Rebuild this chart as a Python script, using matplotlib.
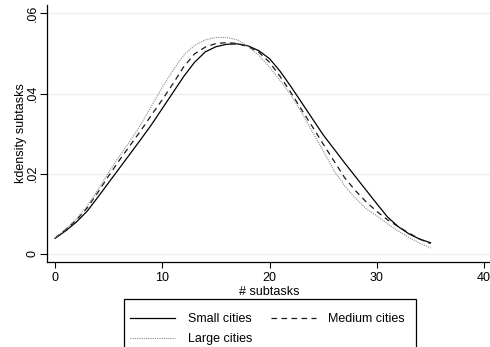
import numpy as np
import matplotlib
matplotlib.use('Agg')
import matplotlib.pyplot as plt
from matplotlib.patches import Rectangle

plt.rcParams['font.family'] = ['Liberation Sans', 'DejaVu Sans']
plt.rcParams['font.size'] = 9

# density, one value per subtask count 0..35
subtasks = list(range(36))
small = [0.0039, 0.0058, 0.0080, 0.0107, 0.0142, 0.0178, 0.0214, 0.0250, 0.0286, 0.0323,
         0.0363, 0.0403, 0.0443, 0.0478, 0.0504, 0.0517, 0.0523, 0.0524, 0.0519, 0.0507,
         0.0487, 0.0455, 0.0417, 0.0377, 0.0337, 0.0297, 0.0262, 0.0227, 0.0193, 0.0159,
         0.0125, 0.0092, 0.0068, 0.0050, 0.0037, 0.0028]
medium = [0.0040, 0.0061, 0.0085, 0.0115, 0.0154, 0.0195, 0.0234, 0.0271, 0.0308, 0.0347,
          0.0385, 0.0425, 0.0467, 0.0499, 0.0516, 0.0525, 0.0527, 0.0525, 0.0517, 0.0503,
          0.0478, 0.0442, 0.0402, 0.0359, 0.0317, 0.0274, 0.0232, 0.0190, 0.0158, 0.0130,
          0.0106, 0.0085, 0.0068, 0.0052, 0.0037, 0.0026]
large = [0.0040, 0.0062, 0.0088, 0.0120, 0.0160, 0.0204, 0.0244, 0.0282, 0.0323, 0.0369,
         0.0416, 0.0458, 0.0496, 0.0520, 0.0534, 0.0540, 0.0540, 0.0534, 0.0518, 0.0495,
         0.0466, 0.0432, 0.0396, 0.0352, 0.0304, 0.0257, 0.0208, 0.0170, 0.0139, 0.0113,
         0.0095, 0.0075, 0.0057, 0.0041, 0.0027, 0.0015]

xticks = [0, 10, 20, 30, 40]
yticks = [0, 0.02, 0.04, 0.06]
ytick_labels = ['0', '.02', '.04', '.06']

fig = plt.figure(figsize=(4.9, 3.47), dpi=100)
ax = fig.add_axes([47/490, 85/347, 445/490, 257/347])

l_small, = ax.plot(subtasks, small, color='black', lw=0.9, label='Small cities')
l_med, = ax.plot(subtasks, medium, color='#1a1a1a', lw=0.9, linestyle=(0, (4.5, 3.5)), label='Medium cities')
l_large, = ax.plot(subtasks, large, color='#8a8a8a', lw=0.8, linestyle=(0, (1, 1)), label='Large cities')

ax.set_xlim(-0.75, 40.73)
ax.set_ylim(-0.002, 0.0621)
ax.set_xticks(xticks)
ax.set_yticks(yticks)
ax.set_yticklabels(ytick_labels, rotation=90, va='center')
ax.grid(axis='y', color='#e6eeef', lw=0.9)
ax.set_axisbelow(True)

for s in ['top', 'right']:
    ax.spines[s].set_visible(False)
ax.spines['left'].set_linewidth(0.9)
ax.spines['bottom'].set_linewidth(0.9)
ax.tick_params(axis='y', length=5, width=0.8, pad=1)
ax.tick_params(axis='x', length=4, width=0.8, pad=3)

ax.set_xlabel('# subtasks', labelpad=1.5)
ax.set_ylabel('kdensity subtasks', labelpad=0)

# legend box runs off the bottom of the image, as in the original
fig.patches.append(Rectangle((124/490, -0.1), (416-124)/490, (347-299)/347 + 0.1,
                             transform=fig.transFigure, fill=False, lw=0.9, edgecolor='black'))
fig.legend(handles=[l_small, l_large, l_med], loc='upper left',
           bbox_to_anchor=(119/490, 1 - 302/347), ncol=2, frameon=False,
           handlelength=3.6, handletextpad=1.0, columnspacing=1.5,
           labelspacing=0.62, borderpad=0.4)

fig.savefig('out.png', dpi=100)
